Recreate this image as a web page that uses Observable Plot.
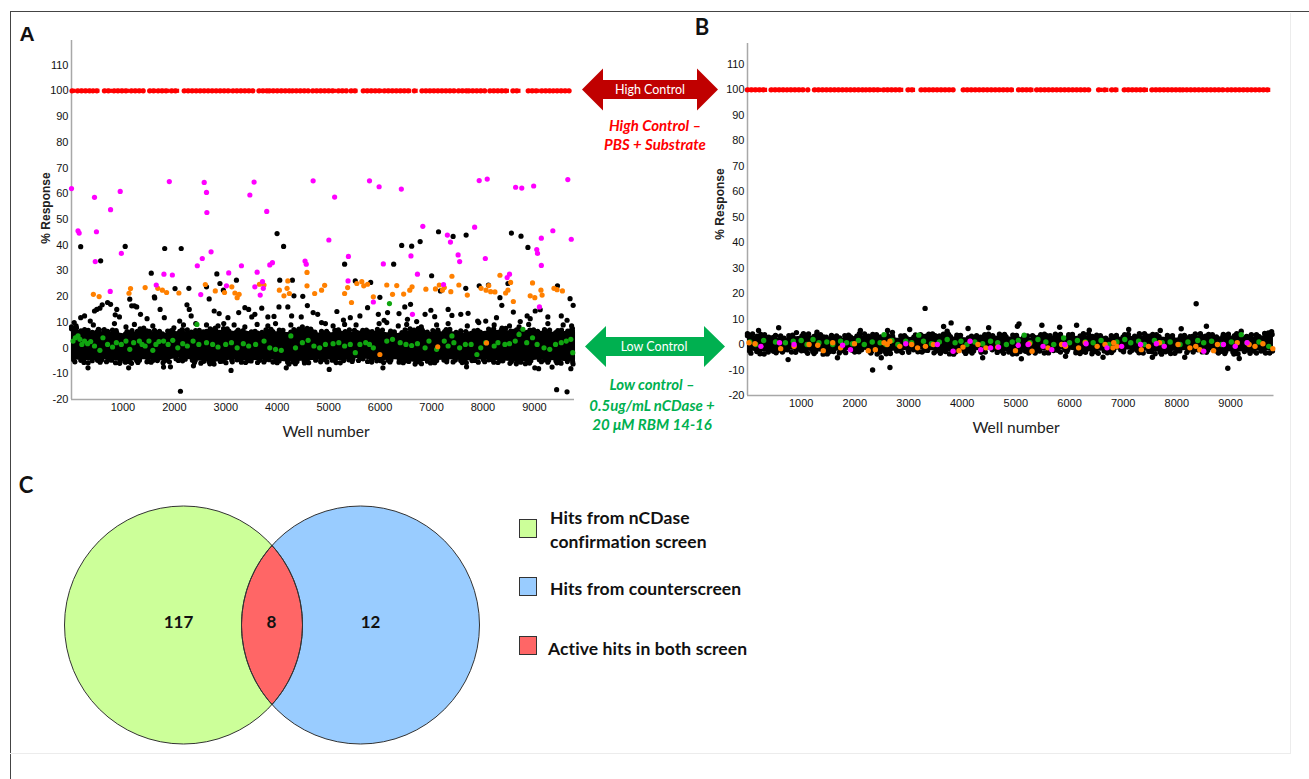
<!DOCTYPE html>
<html><head><meta charset="utf-8">
<script src="https://cdn.jsdelivr.net/npm/d3@7"></script>
<script src="https://cdn.jsdelivr.net/npm/@observablehq/plot@0.6"></script>
<style>
html,body{margin:0;padding:0;background:#fff;}
#fig{position:relative;width:1309px;height:779px;overflow:hidden;background:#fff;font-family:Lato,"Open Sans",sans-serif;}
.t{position:absolute;white-space:nowrap;transform:translate(-50%,-50%);line-height:1;}
.l{position:absolute;white-space:nowrap;transform:translateY(-50%);line-height:1;}
.abs{position:absolute;}
</style></head><body>
<div id="fig"></div>
<script>
// ---------------- DATA ----------------
const yTicks = [-20,-10,0,10,20,30,40,50,60,70,80,90,100,110];
const xTicks = [1000,2000,3000,4000,5000,6000,7000,8000,9000];
const HIGH = 100;
const bandWells = [0,350,700,1050,1400,1750,2100,2450,2800,3150,3500,3850,4200,4550,4900,5250,5600,5950,6300,6650,7000,7350,7700,8050,8400,8750,9100,9450,9800];

// Panel A (confirmation screen)
const ctrlA = [[20,89],[127,388],[425,552],[649,798],[835,1133],[1171,1432],[1529,1655],[1693,1916],[1954,2103],[2200,3110],[3147,3557],[3654,3818],[3855,4265],[4303,4623],[4698,5160],[5198,5384],[5444,5570],[5682,6055],[6092,6614],[6674,6741],[6823,7487],[7532,7696],[7733,8069],[8143,8516],[8591,8740],[8889,9113],[9150,9336],[9374,9694]];
const bandAupper = [7.5,6,6.5,5.5,7,5.5,6.5,6,7,6.5,5.5,6.5,6,7,5.5,6.5,6,6.5,5.5,7,6,6.5,5.5,6.5,7,6,6.5,6,7];
const bandAlower = [-4.5,-5,-4.5,-5.5,-4.5,-5,-4,-5,-5.5,-4.5,-5,-4.5,-5.5,-5,-4.5,-5,-4,-5,-4.5,-5.5,-5,-4.5,-5,-4.5,-5,-5.5,-4.5,-5,-5.5];
const blackA = [
[179,39.4],[567,33.9],[1044,39.5],[1551,29.1],[1618,19.5],[1812,38.7],[2013,23.1],[2133,38.7],[2282,23.2],[2625,23.8],[2677,19.1],[2826,28.8],[2886,25.1],[2953,22.5],[3207,26.4],[3997,44.5],[4124,39.5],[4049,26.4],[4295,26.4],[4325,20.3],[4497,20.1],[5310,32.6],[5518,26.1],[5817,25.5],[5996,19.7],[6264,32.6],[6420,39.9],[6614,39.6],[6779,41.4],[7002,28.1],[7136,45.2],[7174,22.2],[7420,43.4],[7673,43.9],[7666,23.2],[7927,24.2],[8106,24.5],[8330,19.6],[8486,25.1],[8553,44.7],[8740,43.5],[8874,39.1],[9016,14.4],[9449,24.2],[9694,19.2],[9754,16.6],
[2118,-16.8],[9433,-16.2],[9635,-17],
[52,9.9],[179,11.8],[254,12.5],[365,10.5],[447,14.4],[492,15],[552,15.5],[597,16.8],[701,17.7],[760,17],[850,12.9],[880,15],[932,12.1],[1133,19],[1171,16.4],[1223,16.4],[1268,16],[1342,13.1],[1469,11.4],[1611,19.9],[1723,15],[1805,11.8],[2103,10.5],[2245,16.8],[2290,15],[2327,12.5],[2774,14.4],[2871,13.4],[3042,11.8],[3251,13.8],[3371,15.7],[3445,15],[3505,12.1],[3565,13.1],[3699,15.5],[3818,12.1],[3937,12.3],[4034,16],[4206,16],[4280,12.5],[4467,12.1],[4586,16.5],[4698,13.8],[4787,13.1],[4937,9.5],[5160,14.2],[5287,10.9],[5421,11.8],[5608,12.5],[5757,15.7],[5966,13.1],[6078,10.8],[6145,13.8],[6368,13.4],[6480,16],[6592,17],[6532,11.2],[6711,10.3],[6875,13.1],[6987,14.7],[7062,12.2],[7323,15],[7397,12.7],[7569,13.1],[7711,13.5],[7897,10.5],[8054,10.5],[8263,11.8],[8367,16.6],[8591,14],[8725,10.3],[8859,12.5],[8919,11.4],[9113,14.9],[9262,12.1],[9523,12.5],[9635,10.8],
[89,8.6],[425,9.0],[522,7.3],[835,9.5],[1059,8.2],[1223,9.2],[1581,8.6],[1991,7.9],[2177,9.0],[2416,9.5],[2625,9.0],[2849,8.6],[2960,9.5],[3162,9.0],[3371,8.2],[3609,9.2],[3818,8.6],[3967,9.5],[4265,9.0],[4489,8.2],[4862,9.9],[5086,8.6],[5310,9.2],[5533,9.0],[5981,9.5],[6130,9.9],[6354,8.6],[6517,9.2],[6801,8.2],[7099,9.0],[7323,9.5],[7696,8.6],[7919,9.9],[8218,9.0],[8516,8.6],[8702,8.2],[8889,9.2],[9262,9.5],[9560,9.0],[9724,8.6],
[321,-7.7],[1111,-7.7],[1790,-7.4],[1924,-7.3],[2371,-6.9],[3102,-8.7],[4176,-7.7],[5011,-8.3],[6055,-7.7],[7681,-7.3],[9008,-7.7],[9083,-8],[9344,-7.4],[9709,-8]];
const greenA = [[30,2.7],[75,4.0],[127,4.7],[164,3.4],[201,1.4],[254,2.7],[313,1.7],[373,2.5],[447,0.8],[552,-0.9],[611,4.0],[701,1.4],[798,0.4],[872,2.1],[969,1.4],[1059,2.7],[1133,-0.5],[1208,2.1],[1320,2.7],[1372,1.4],[1432,0.8],[1506,2.7],[1581,-0.9],[1641,1.4],[1700,2.5],[1790,2.7],[1879,1.4],[1969,3.0],[2066,0.1],[2163,1.7],[2252,0.8],[2364,2.7],[2476,1.4],[2625,2.1],[2744,1.4],[2849,0.4],[2998,1.4],[3110,2.1],[3221,0.1],[3341,1.7],[3445,0.8],[3580,1.4],[3744,2.7],[3855,0.1],[3967,-0.5],[4079,-0.9],[4265,4.7],[4355,0.1],[4489,2.1],[4601,3.0],[4713,0.8],[4825,0.1],[4937,1.4],[5086,1.7],[5198,2.1],[5310,0.8],[5421,1.4],[5518,-1.8],[5608,1.4],[5720,2.1],[5794,1.4],[5869,0.1],[6130,2.7],[6242,3.4],[6391,2.1],[6503,1.4],[6614,1.0],[6726,1.7],[6875,0.1],[6950,2.7],[7099,-0.5],[7248,2.7],[7323,0.8],[7397,4.7],[7435,2.1],[7547,0.1],[7658,1.4],[7770,1.4],[7882,-2.5],[7957,0.1],[8054,2.1],[8218,0.8],[8292,2.1],[8427,1.4],[8516,1.7],[8628,2.7],[8702,5.3],[8777,7.3],[8851,2.1],[8964,4.0],[9053,1.4],[9187,0.1],[9299,-0.5],[9411,1.4],[9523,2.1],[9620,2.7],[9709,3.4],[9746,-1.8],[2438,9.2],[6182,17.3]];
const orangeA = [[425,20.9],[537,20],[1118,21.3],[1148,23.1],[1432,23.5],[1678,23.2],[1767,22.5],[1849,21.6],[2088,21.4],[2602,24.7],[2796,22.2],[2975,21.6],[3117,23.8],[3177,21.4],[3221,19.6],[3259,20.9],[3654,24.8],[3743,24.5],[4042,22.5],[4131,20.3],[4206,26.1],[4191,23.2],[4236,21.2],[4579,29.4],[4579,24.2],[4728,21.2],[4862,22.5],[4922,24.4],[5310,21.2],[5369,23.5],[5444,17.7],[5548,25.1],[5645,25.8],[5682,24.2],[5757,24.8],[5869,19.9],[6130,24.5],[6242,20.9],[6324,24.3],[6458,21],[6577,22.5],[6622,23.8],[6890,22.9],[7077,23],[7151,24.5],[7211,22.5],[7248,23.5],[7397,27.9],[7375,21.9],[7532,24.5],[7696,20.6],[7964,23.2],[8061,22.5],[8113,24.3],[8150,21.9],[8233,21.8],[8330,28.3],[8441,21.4],[8486,22.5],[8538,25.5],[8591,18.1],[8919,20.3],[8964,25.3],[9008,19.6],[9128,22.5],[9150,20.6],[9381,23.2],[9441,22.7],[9545,22.2],[5996,-2.5],[7121,0.5],[8069,2]];
const magentaA = [[0,62],[127,45.6],[149,44.7],[447,58.6],[462,33.6],[485,45.2],[753,22],[760,53.8],[947,60.9],[969,36.8],[1648,24.5],[1797,28.7],[1902,64.7],[1961,28.4],[2446,32],[2513,20.8],[2543,34.8],[2580,64.4],[2625,60.5],[2632,52.7],[2714,37.4],[3013,24.2],[3057,29.2],[3304,32],[3468,59.5],[3550,64.5],[3565,23.8],[3609,29.5],[3669,20.6],[3714,25.8],[3729,23.2],[3796,53.1],[3855,32.3],[3907,33.2],[4541,33.8],[4564,32.6],[4698,65],[5004,42],[5116,58.7],[5384,35.6],[5377,26.1],[5794,65],[5869,17.9],[5981,62.7],[6063,32.7],[6413,61.8],[6600,35.8],[6629,13.1],[6726,28.7],[6831,47.3],[7233,24.7],[7308,43.9],[7368,41.2],[7517,36.2],[7547,33.6],[7838,47],[7927,65.1],[8046,34.8],[8083,65.7],[8471,27.4],[8516,28.7],[8635,62.5],[8755,62.2],[8986,63],[9046,38.3],[9061,36.8],[9135,42.7],[9135,32.1],[9098,16],[9359,45.6],[9650,65.5],[9717,42.3]];

// Panel B (counterscreen)
const ctrlB = [[7,375],[449,706],[743,1074],[1132,1162],[1257,2176],[2213,2507],[2544,2912],[3000,3132],[3243,3868],[4029,4971],[5059,5338],[5397,6368],[6551,6625],[6662,6735],[6794,6919],[7029,7471],[7544,8080],[8120,8900],[8950,9750]];
const bandBupper = [3.5,3,2.5,3.5,3,2.5,3.5,3,2.5,3,3.5,3,2.5,3.5,3,2.5,3.5,3,3.5,2.5,3,3.5,3,2.5,3.5,3,3.5,3,4];
const bandBlower = [-2.5,-3,-2,-2.5,-3,-2.5,-2,-3,-2.5,-2,-2.5,-3,-2.5,-2,-3,-2.5,-2.5,-2,-3,-2.5,-2,-2.5,-3,-2.5,-2,-2.5,-3,-2.5,-2.5];
const blackB = [[3309,14.2],[8360,16],[2331,-10],[2654,-9],[8949,-9.3],[581,6.6],[3654,7.1],[3794,8.5],[3720,5.2],[4493,6.6],[5029,7.2],[5059,8.1],[5485,7.6],[5816,6.8],[6132,7.6],[8551,7.2],[7103,5.9],[8081,6.2],[4110,6.3],[3022,5.9],[2103,5.5],[1294,4.9],[912,4.7],[206,5.5],[6368,5.6],[7691,5.5],[9199,5.2],[9765,5.0],[2610,5.5],[2700,4.8],[757,-5.9],[1676,-5.2],[5103,-5.6],[8147,-5.0],[9162,-5.5],[4382,-5.2],[6625,-5.0],[2493,-5.2],[7544,-5.0],[5926,-4.6]];
const greenB = [[44,1.0],[154,0],[301,1.6],[522,1.0],[706,0.7],[853,1.3],[1000,1.6],[1110,0],[1221,2.0],[1331,0.7],[1478,1.0],[1588,0],[1735,1.3],[1846,0.7],[1956,0.3],[2066,1.6],[2176,0],[2324,1.0],[2471,0.7],[2581,0],[2544,3.9],[2691,1.6],[2802,0],[2949,1.3],[3059,0.7],[3191,3.7],[3279,1.3],[3427,0.3],[3574,1.0],[3721,2.0],[3868,0.7],[3978,1.3],[4088,0],[4235,1.0],[4382,0.3],[4529,1.3],[4662,0.7],[4824,0],[4934,1.0],[5044,1.6],[5155,3.7],[5265,0.7],[5412,2.0],[5559,1.0],[5706,0],[5890,2.6],[6000,0.7],[6147,1.6],[6294,1.0],[6441,0.7],[6588,1.6],[6735,0],[6883,1.0],[7030,2.0],[7140,0.7],[7287,1.3],[7397,0],[7581,1.6],[7728,0.7],[7875,1.0],[8059,0],[8206,1.0],[8390,1.6],[8500,0.7],[8647,1.3],[8831,0],[9015,1.0],[9199,3.9],[9309,0.7],[9530,1.0],[9713,-0.7]];
const orangeB = [[29,0.7],[140,0.3],[618,-1.6],[868,-0.7],[1147,0],[1309,-0.3],[1412,-2.4],[1588,0.7],[1735,-1.3],[1993,0.3],[2250,-2.4],[2382,-2.0],[2544,0.7],[2603,0],[2654,1.3],[2838,-0.7],[3059,0],[3169,-1.3],[3316,-0.7],[3463,0],[3941,-2.4],[4015,-1.0],[4294,0],[4441,-1.3],[4662,-1.0],[4993,-2.4],[5250,0.3],[5302,-2.6],[5596,-1.3],[5853,0],[5926,-0.7],[6169,-1.3],[6294,0.7],[6515,-0.7],[6662,0],[6809,-1.3],[6824,0.7],[6883,-0.7],[7338,-2.0],[7471,-0.7],[7677,0.7],[8022,0],[8243,-1.3],[8353,-0.7],[8427,-2.0],[8684,-2.4],[8757,0],[9125,0.7],[9346,0],[9456,-0.7],[9603,0.3],[9787,-1.6]];
const magentaB = [[250,-0.7],[596,0.7],[868,0],[1772,-0.3],[1919,-2.0],[2949,0.3],[3537,0],[3831,-2.6],[4147,1.3],[4346,-2.0],[4529,-1.3],[4677,-1.0],[5044,-0.3],[5228,0],[5507,-0.7],[5669,-2.0],[5912,0],[6309,0.3],[6699,-1.3],[6971,-0.7],[7324,0],[7618,0.3],[7765,-0.7],[8500,-2.6],[8868,0],[9088,-0.7],[9309,0.7]];

// Panel C (Venn)
const vennLabels = [["Hits from nCDase","confirmation screen"],["Hits from counterscreen"],["Active hits in both screen"]];
const vennCounts = [117, 12, 8]; // only first, only second, both

// ---------------- RENDER ----------------
const fig = document.getElementById("fig");
function addEl(html, x, y, style, cls) {
  const d = document.createElement("div");
  d.className = cls || "t";
  d.style.left = x + "px"; d.style.top = y + "px";
  Object.assign(d.style, style || {});
  d.innerHTML = html;
  fig.appendChild(d);
  return d;
}
function place(node, x, y) {
  node.style.position = "absolute"; node.style.left = x + "px"; node.style.top = y + "px";
  fig.appendChild(node);
}

// frame
const fr = document.createElement("div");
Object.assign(fr.style, {position:"absolute", left:"10px", top:"11px", width:"1300px", height:"770px", borderTop:"1.5px solid #444", borderLeft:"1.5px solid #444"});
fig.appendChild(fr);
const fr2 = document.createElement("div");
Object.assign(fr2.style, {position:"absolute", left:"10px", top:"13px", width:"1280px", height:"740px", borderRight:"1px solid #ececec", borderBottom:"1px solid #ececec"});
fig.appendChild(fr2);

const COL = {black:"#000", green:"#10a510", orange:"#ff8000", magenta:"#ff00ff", red:"#ff0000", axis:"#a8a8a8"};
const toPts = arr => arr.map(([w, v]) => ({w, v}));

function scatterPanel(o) {
  const band = bandWells.map((w, i) => ({w, lo: o.lower[i], hi: o.upper[i]}));
  const ctrl = o.ctrl.map(([a, b]) => ({a, b, y: HIGH}));
  const bead = (dash, off) => ({fill: "none", stroke: COL.black, strokeWidth: o.r * 2, strokeLinecap: "round", strokeLinejoin: "round", strokeDasharray: dash, strokeDashoffset: off});
  return Plot.plot({
    width: o.width, height: o.height,
    marginLeft: o.ml, marginRight: o.mr, marginTop: o.mt, marginBottom: o.mb,
    x: {domain: [0, o.xMax]},
    y: {domain: [-20, o.yMax]},
    style: {background: "transparent", overflow: "visible", fontFamily: "'Liberation Sans Narrow', 'Liberation Sans', sans-serif", fontSize: "11px", color: "#111"},
    marks: [
      Plot.ruleX([0], {stroke: COL.axis, strokeWidth: 1.5}),
      Plot.ruleY([-20], {stroke: COL.axis, strokeWidth: 1.5}),
      Plot.areaY(band, {x: "w", y1: "lo", y2: "hi", fill: COL.black}),
      Plot.lineY(band, {x: "w", y: "hi", ...bead("0,3.2,0,6.5,0,2.6,0,9,0,4.4,0,7.7", 0)}),
      Plot.lineY(band, {x: "w", y: "hi", ...bead("0,5.1,0,8.3,0,3.7,0,11", 0), dy: -2}),
      Plot.lineY(band, {x: "w", y: "lo", ...bead("0,4.1,0,7.2,0,2.9,0,8.6,0,5.3", 2)}),
      Plot.lineY(band, {x: "w", y: "lo", ...bead("0,6.4,0,9.1,0,4.2,0,12", 3), dy: 2}),
      Plot.dot(toPts(o.black), {x: "w", y: "v", r: o.r, fill: COL.black}),
      Plot.ruleY(ctrl, {y: "y", x1: "a", x2: "b", stroke: COL.red, strokeWidth: o.r * 2, strokeLinecap: "round", strokeDasharray: "0,4"}),
      Plot.ruleY(ctrl, {y: "y", x1: "a", x2: "b", stroke: COL.red, strokeWidth: o.r * 1.6}),
      Plot.dot(toPts(o.green), {x: "w", y: "v", r: o.r, fill: COL.green}),
      Plot.dot(toPts(o.orange), {x: "w", y: "v", r: o.r, fill: COL.orange}),
      Plot.dot(toPts(o.magenta), {x: "w", y: "v", r: o.r, fill: COL.magenta}),
      Plot.axisY({ticks: yTicks, tickSize: 0, tickPadding: 3, tickFormat: d => String(d), label: null, fontSize: 11, fill: "#111"}),
      Plot.axisX({ticks: xTicks, tickSize: 0, tickPadding: 4, tickFormat: d => String(d), label: null, fontSize: 11, fill: "#111"})
    ]
  });
}

const plotA = scatterPanel({width: 600, height: 440, ml: 71, mr: 26, mt: 40, mb: 41, xMax: 9780, yMax: 119.55, r: 2.6,
  ctrl: ctrlA, upper: bandAupper, lower: bandAlower, black: blackA, green: greenA, orange: orangeA, magenta: magentaA});
place(plotA, 0, 0);

const plotB = scatterPanel({width: 620, height: 436, ml: 70, mr: 23.5, mt: 43, mb: 41, xMax: 9810, yMax: 118.2, r: 2.7,
  ctrl: ctrlB, upper: bandBupper, lower: bandBlower, black: blackB, green: greenB, orange: orangeB, magenta: magentaB});
place(plotB, 677, 0);

// axis titles
addEl("Well number", 326, 432, {fontSize: "15.5px", color: "#222"});
addEl("Well number", 1016, 428, {fontSize: "15.5px", color: "#222"});
addEl("% Response", 46, 208, {fontFamily: "'Liberation Sans', sans-serif", fontWeight: "bold", fontSize: "12px", color: "#222", transform: "translate(-50%,-50%) rotate(-90deg)"});
addEl("% Response", 720, 204, {fontFamily: "'Liberation Sans', sans-serif", fontWeight: "bold", fontSize: "12px", color: "#222", transform: "translate(-50%,-50%) rotate(-90deg)"});

// panel letters
addEl("A", 27, 33, {fontFamily: "'Liberation Sans', sans-serif", fontWeight: "bold", fontSize: "21px", color: "#111"});
addEl("B", 702, 27, {fontWeight: "bold", fontSize: "22px", color: "#111"});
addEl("C", 26, 485, {fontWeight: "bold", fontSize: "22px", color: "#111"});

// control arrows (annotations)
const ns = "http://www.w3.org/2000/svg";
const arr = document.createElementNS(ns, "svg");
arr.setAttribute("width", 1309); arr.setAttribute("height", 779);
arr.style.position = "absolute"; arr.style.left = "0px"; arr.style.top = "0px"; arr.style.pointerEvents = "none";
function arrow(x0, x1, cy, hh, bh, hw, color) {
  const p = document.createElementNS(ns, "polygon");
  const pts = [[x0, cy], [x0 + hw, cy - hh], [x0 + hw, cy - bh], [x1 - hw, cy - bh], [x1 - hw, cy - hh], [x1, cy], [x1 - hw, cy + hh], [x1 - hw, cy + bh], [x0 + hw, cy + bh], [x0 + hw, cy + hh]];
  p.setAttribute("points", pts.map(d => d.join(",")).join(" "));
  p.setAttribute("fill", color);
  arr.appendChild(p);
}
arrow(582, 718, 89.5, 21, 9.5, 21, "#c00000");
arrow(585, 725, 346.5, 20.5, 9.5, 21, "#00b050");
fig.appendChild(arr);
addEl("High Control", 650, 90, {fontSize: "12.5px", color: "#fff"});
addEl("Low Control", 654, 347, {fontSize: "12.5px", color: "#fff"});
const redTxt = {fontSize: "15px", fontWeight: "bold", fontStyle: "italic", color: "#ff0000"};
addEl("High Control –", 655, 125, redTxt);
addEl("PBS + Substrate", 655, 144, redTxt);
const grnTxt = {fontSize: "15px", fontWeight: "bold", fontStyle: "italic", color: "#00b050"};
addEl("Low control –", 652, 384, grnTxt);
addEl("0.5ug/mL nCDase +", 652, 405, grnTxt);
addEl("20 μM RBM 14-16", 652, 424, grnTxt);

// Venn diagram
const V = {w: 520, h: 300, cxL: 183, cxR: 360, cy: 164.5, R: 119};
const vennColors = ["#ccff99", "#99ccff", "#ff6666"];
const half = (V.cxR - V.cxL) / 2;
const th = Math.acos(half / V.R);
const lens = [];
for (let i = 0; i <= 60; i++) { const t = -th + 2 * th * i / 60; lens.push({x: V.cxL + V.R * Math.cos(t), y: V.cy + V.R * Math.sin(t)}); }
for (let i = 0; i <= 60; i++) { const t = Math.PI - th + 2 * th * i / 60; lens.push({x: V.cxR + V.R * Math.cos(t), y: V.cy + V.R * Math.sin(t)}); }
const sets = [{count: vennCounts[0], cx: V.cxL, lx: 178, fill: vennColors[0]}, {count: vennCounts[1], cx: V.cxR, lx: 370, fill: vennColors[1]}];
const plotC = Plot.plot({
  width: V.w, height: V.h, margin: 0,
  x: {domain: [0, V.w], range: [0, V.w]},
  y: {domain: [0, V.h], range: [0, V.h]},
  axis: null,
  style: {background: "transparent", overflow: "visible"},
  marks: [
    Plot.dot(sets, {x: "cx", y: () => V.cy, r: V.R, fill: "fill", stroke: "none"}),
    Plot.line(lens, {x: "x", y: "y", curve: "linear-closed", fill: vennColors[2], stroke: "#333", strokeWidth: 1}),
    Plot.dot(sets, {x: "cx", y: () => V.cy, r: V.R, fill: "none", stroke: "#333", strokeWidth: 1}),
    Plot.text(sets, {x: "lx", y: () => V.cy - 2, text: d => String(d.count), fontSize: 17, fontWeight: "bold", fontFamily: "Lato, sans-serif", fill: "#111"}),
    Plot.text([vennCounts[2]], {x: () => (V.cxL + V.cxR) / 2 - 0.5, y: () => V.cy - 2, text: d => String(d), fontSize: 17, fontWeight: "bold", fontFamily: "Lato, sans-serif", fill: "#111"})
  ]
});
place(plotC, 0, 460);

// Venn legend
const legY = [[518, 542], [589], [649]];
const swY = [528, 586.5, 645];
vennLabels.forEach((lines, i) => {
  const sw = document.createElement("div");
  Object.assign(sw.style, {position: "absolute", left: "519px", top: (swY[i] - 9.5) + "px", width: "16px", height: "17px", background: vennColors[i], border: "1.5px solid #333"});
  fig.appendChild(sw);
  lines.forEach((s, j) => addEl(s, i === 2 ? 548 : 550, legY[i][j], {fontSize: "17.5px", fontWeight: "bold", color: "#111", letterSpacing: "0.1px"}, "l"));
});
</script>
</body></html>
